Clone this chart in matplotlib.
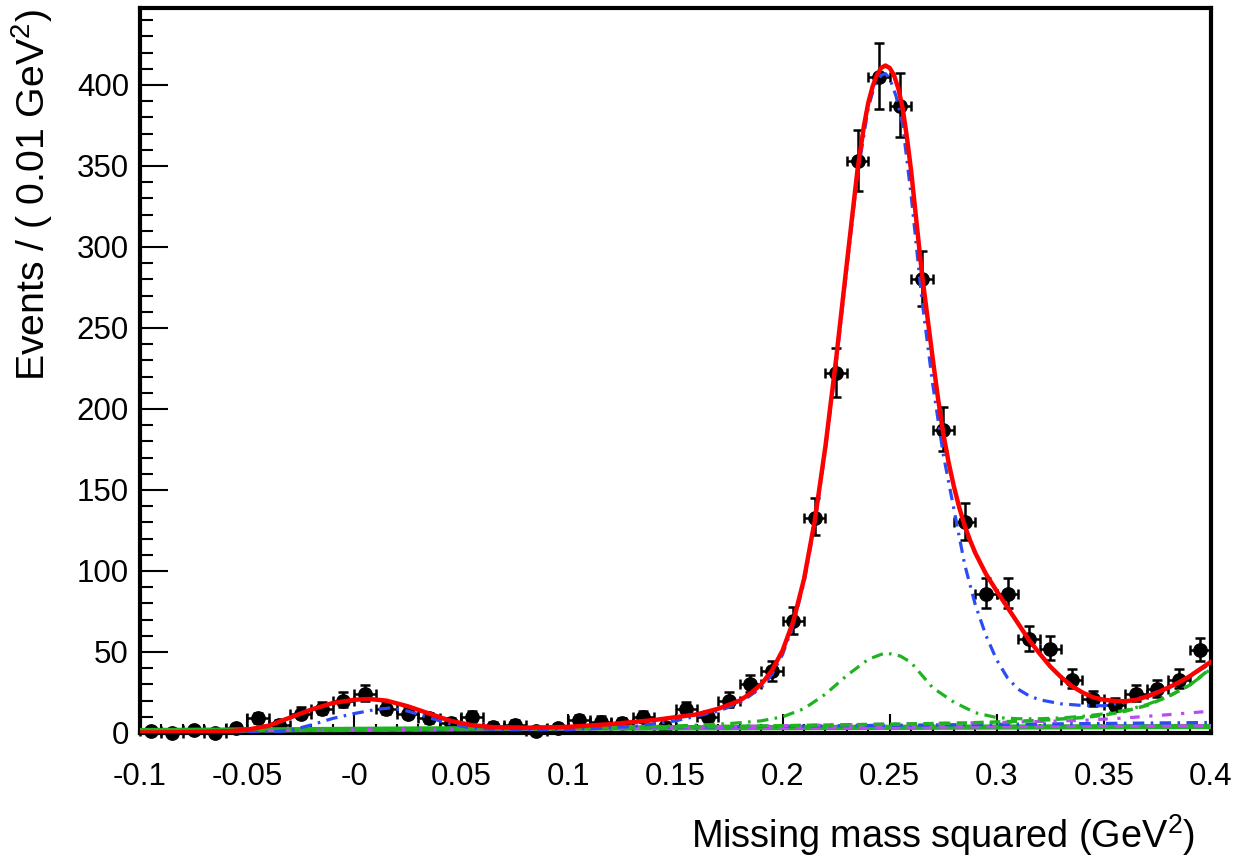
import numpy as np
import matplotlib
matplotlib.use("Agg")
import matplotlib.pyplot as plt
from matplotlib.ticker import MultipleLocator, FixedLocator, FixedFormatter

plt.rcParams['font.family'] = ['Liberation Sans', 'DejaVu Sans']
plt.rcParams['mathtext.fontset'] = 'custom'
plt.rcParams['mathtext.rm'] = 'Liberation Sans'
plt.rcParams['mathtext.it'] = 'Liberation Sans'

# ---------------- data ----------------
bin_centers = np.round(np.arange(-0.095, 0.4, 0.01), 3)
counts = [1, 0, 2, 0, 3, 9, 5, 12, 15, 20,
          24, 15, 12, 9, 6, 10, 4, 5, 1, 3,
          8, 7, 6, 10, 4, 15, 10, 20, 30, 38,
          69, 133, 222, 353, 405, 387, 280, 187, 130, 86,
          86, 58, 52, 33, 21, 17, 24, 27, 33, 51]
bin_half_width = 0.005

# total fit (red)
total_x = [-0.100, -0.080, -0.060, -0.050, -0.040, -0.030, -0.020, -0.010, 0.000, 0.007,
           0.015, 0.025, 0.035, 0.045, 0.055, 0.065, 0.080, 0.100, 0.120, 0.140,
           0.160, 0.170, 0.180, 0.185, 0.190, 0.195, 0.200, 0.205, 0.210, 0.215,
           0.220, 0.225, 0.230, 0.235, 0.238, 0.240, 0.242, 0.244, 0.246, 0.248,
           0.250, 0.252, 0.254, 0.256, 0.258, 0.260, 0.265, 0.270, 0.2725, 0.275,
           0.2775, 0.280, 0.2825, 0.285, 0.2875, 0.290, 0.295, 0.300,
           0.305, 0.310, 0.315, 0.320, 0.325, 0.330, 0.335, 0.340, 0.345, 0.350,
           0.355, 0.360, 0.365, 0.370, 0.375, 0.380, 0.385, 0.390, 0.395, 0.400]
total_y = [0.3, 0.5, 1.0, 2.0, 4.5, 9.5, 14.5, 18.5, 20.5, 21.0,
           20.0, 16.5, 12.0, 7.5, 4.8, 3.6, 3.2, 3.8, 5.5, 8.0,
           11.5, 15.0, 20.0, 24.5, 30.0, 38.5, 51.0, 69.0, 95.0, 131.0,
           177.0, 231.0, 290.0, 348.0, 375.0, 389.0, 399.0, 406.0, 410.5, 412.0,
           410.5, 406.0, 398.0, 386.0, 368.0, 347.0, 284.0, 232.0, 207.0, 185.0,
           167.0, 152.0, 139.0, 128.0, 119.0, 111.0, 98.0, 87.5,
           77.5, 67.5, 57.5, 49.0, 41.0, 34.5, 29.0, 25.0, 22.0, 20.5,
           19.8, 19.6, 20.4, 22.5, 25.0, 28.0, 31.2, 35.0, 39.5, 44.0]

# signal component (blue dash-dot)
sig_x = [-0.100, -0.050, -0.040, -0.030, -0.020, -0.010, 0.000, 0.010, 0.017, 0.025,
         0.035, 0.045, 0.055, 0.070, 0.100, 0.130, 0.150, 0.170, 0.180, 0.190,
         0.195, 0.200, 0.205, 0.210, 0.215, 0.220, 0.225, 0.230, 0.235, 0.240,
         0.243, 0.246, 0.248, 0.250, 0.253, 0.256, 0.260, 0.265, 0.270, 0.275,
         0.280, 0.285, 0.290, 0.295, 0.300, 0.305, 0.310, 0.315, 0.320, 0.330,
         0.340, 0.350, 0.360, 0.370, 0.380, 0.390, 0.400]
sig_y = [0.0, 0.1, 0.5, 1.5, 5.0, 9.0, 12.0, 14.5, 15.5, 13.5,
         9.5, 5.5, 3.0, 2.0, 2.0, 4.0, 7.5, 13.5, 18.5, 28.0,
         36.0, 48.5, 67.0, 93.0, 129.0, 175.0, 228.0, 287.0, 345.0, 386.0,
         400.0, 406.0, 407.0, 404.0, 393.0, 376.0, 332.0, 268.0, 216.0, 172.0,
         138.0, 104.0, 79.0, 60.0, 45.0, 34.0, 27.0, 23.0, 20.5, 18.0,
         17.0, 16.8, 19.0, 23.0, 28.0, 35.0, 43.0]

# peaking background (green dash-dot)
peak_bkg_x = [-0.100, 0.000, 0.100, 0.140, 0.160, 0.175, 0.190, 0.200, 0.210, 0.220,
              0.230, 0.240, 0.248, 0.255, 0.260, 0.270, 0.280, 0.290, 0.300, 0.310,
              0.320, 0.330, 0.340, 0.350, 0.360, 0.370, 0.380, 0.390, 0.400]
peak_bkg_y = [1.5, 2.2, 3.0, 4.0, 4.8, 5.8, 7.5, 10.0, 15.0, 24.0,
              35.5, 45.5, 49.5, 47.5, 43.5, 28.0, 19.0, 12.5, 9.5, 8.8,
              8.8, 9.3, 10.3, 11.8, 14.0, 17.5, 22.5, 29.5, 39.5]

# rising background (green dashed)
rise_bkg_x = [-0.100, 0.100, 0.200, 0.280, 0.300, 0.320, 0.340, 0.350, 0.360, 0.370, 0.380, 0.390, 0.400]
rise_bkg_y = [1.5, 3.0, 4.5, 6.0, 6.8, 7.8, 9.5, 11.0, 13.5, 17.0, 22.5, 29.5, 40.0]

# slowly rising background (violet dash-dot)
slow_bkg_x = [-0.100, 0.100, 0.200, 0.300, 0.340, 0.360, 0.380, 0.400]
slow_bkg_y = [1.0, 3.0, 4.5, 6.5, 7.8, 9.3, 11.3, 13.5]

# flat backgrounds
flat_x = [-0.100, 0.100, 0.400]
flat_violet_y = [1.0, 2.5, 4.5]
flat_blue_y = [1.0, 3.0, 6.5]
flat_green_y = [1.5, 3.0, 4.0]

x_tick_vals = [-0.1, -0.05, 0.0, 0.05, 0.1, 0.15, 0.2, 0.25, 0.3, 0.35, 0.4]
x_tick_labels = ['-0.1', '-0.05', '-0', '0.05', '0.1', '0.15', '0.2', '0.25', '0.3', '0.35', '0.4']
y_tick_vals = [0, 50, 100, 150, 200, 250, 300, 350, 400]

# ---------------- figure ----------------
fig = plt.figure(figsize=(12.5, 8.59), dpi=100)
ax = fig.add_axes([140 / 1250, 1 - 733 / 859, (1211 - 140) / 1250, (733 - 8) / 859])

RED = '#ff0000'
BLUE = '#2b4cf5'
GREEN = '#1fb41f'
VIOLET = '#b84df0'

cnt = np.array(counts, dtype=float)
err_lo = np.sqrt(cnt + 0.25) - 0.5
err_hi = np.sqrt(cnt + 0.25) + 0.5
ax.errorbar(bin_centers, cnt, yerr=[err_lo, err_hi], xerr=bin_half_width,
            fmt='o', color='black', ms=9.6, elinewidth=1.8, capsize=3.4,
            capthick=1.8, zorder=3, clip_on=False)

dd = (0, (3.6, 2.0, 0.8, 2.0))
ax.plot(flat_x, flat_green_y, '-', color=GREEN, lw=3.8, zorder=4)
ax.plot(flat_x, flat_violet_y, color=VIOLET, lw=2.3, ls=(0, (3.0, 2.0)), zorder=4)
ax.plot(flat_x, flat_blue_y, color=BLUE, lw=2.3, ls=dd, zorder=4)
ax.plot(slow_bkg_x, slow_bkg_y, color=VIOLET, lw=2.3, ls=(0, (3.0, 3.0, 1.0, 3.0)), zorder=4)
ax.plot(rise_bkg_x, rise_bkg_y, color=GREEN, lw=2.5, ls=(0, (3.0, 1.8)), zorder=4)
ax.plot(peak_bkg_x, peak_bkg_y, color=GREEN, lw=2.3, ls=dd, zorder=5)
ax.plot(sig_x, sig_y, color=BLUE, lw=2.3, ls=dd, zorder=5)
ax.plot(total_x, total_y, '-', color=RED, lw=3.2, zorder=6, solid_joinstyle='round')

ax.set_xlim(-0.1, 0.4)
ax.set_ylim(0, 447.5)

ax.xaxis.set_major_locator(FixedLocator(x_tick_vals))
ax.xaxis.set_major_formatter(FixedFormatter(x_tick_labels))
ax.xaxis.set_minor_locator(MultipleLocator(0.01))
ax.yaxis.set_major_locator(FixedLocator(y_tick_vals))
ax.yaxis.set_minor_locator(MultipleLocator(10))

ax.tick_params(axis='x', which='major', direction='in', length=13.7, width=1.5,
               labelsize=22.5, pad=21, top=False)
ax.tick_params(axis='x', which='minor', direction='in', length=6.5, width=1.5, top=False)
ax.tick_params(axis='y', which='major', direction='in', length=20, width=1.5,
               labelsize=22.5, pad=8, right=False)
ax.tick_params(axis='y', which='minor', direction='in', length=9.4, width=1.5, right=False)

for s in ax.spines.values():
    s.set_linewidth(3.0)

fig.text(1195 / 1250, 1 - 835 / 859, r'Missing mass squared (GeV$^{2}$)',
         ha='right', va='center', fontsize=27.3)
fig.text(32 / 1250, 1 - 9 / 859, r'Events / ( 0.01 GeV$^{2}$)',
         ha='center', va='top', rotation=90, fontsize=28.3)

fig.savefig('out.png', dpi=100)
